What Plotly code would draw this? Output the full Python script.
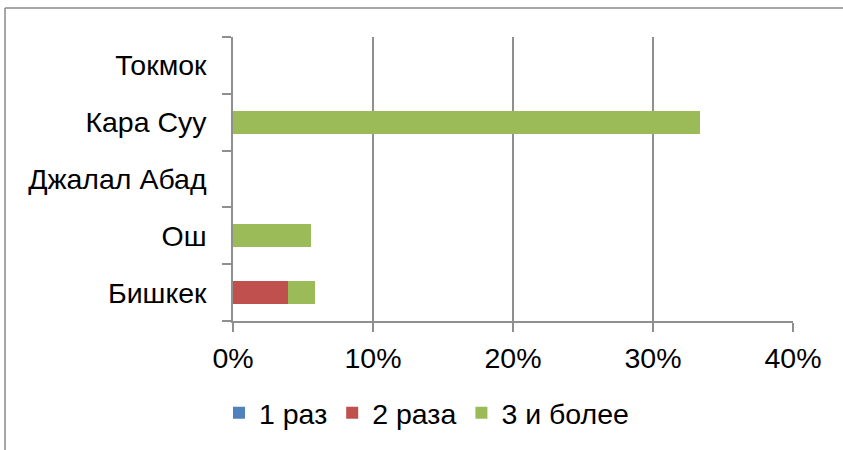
import plotly.graph_objects as go

# данные
cities = ["Бишкек", "Ош", "Джалал Абад", "Кара Суу", "Токмок"]
once = [0.0, 0.0, 0.0, 0.0, 0.0]
twice = [0.0392, 0.0, 0.0, 0.0, 0.0]
three_plus = [0.0196, 0.0556, 0.0, 0.3333, 0.0]
x_ticks = [0, 0.1, 0.2, 0.3, 0.4]

FONT = "Liberation Sans, Arial, sans-serif"
GRID = "#8f8f8f"

fig = go.Figure()
series = [("1 раз", once, "#4F81BD"),
          ("2 раза", twice, "#C0504D"),
          ("3 и более", three_plus, "#9BBB59")]
for name, vals, color in series:
    fig.add_trace(go.Bar(
        y=cities, x=vals, name=name, orientation="h",
        marker=dict(color=color, line=dict(width=0)),
    ))

fig.update_layout(
    barmode="stack", bargap=0.6,
    width=843, height=450,
    margin=dict(l=233, r=50, t=37, b=128),
    paper_bgcolor="white", plot_bgcolor="white",
    font=dict(family=FONT, size=28.5, color="black"),
    showlegend=True,
    legend=dict(orientation="h", x=0.3455, xanchor="center", y=-0.32, yanchor="middle",
                font=dict(size=28.5), traceorder="normal", itemwidth=30),
)
fig.update_xaxes(
    range=[0, 0.4], tickvals=x_ticks, tickformat=".0%",
    showgrid=True, gridcolor=GRID, gridwidth=1.5,
    showline=True, linecolor=GRID, linewidth=1.5,
    ticks="outside", ticklen=9, tickcolor=GRID, tickwidth=1.5,
    zeroline=False, ticklabelstandoff=2,
)
fig.update_yaxes(
    showline=True, linecolor=GRID, linewidth=1.5,
    ticks="outside", ticklen=9, tickcolor=GRID, tickwidth=1.5, tickson="boundaries",
    showgrid=False, ticklabelstandoff=19,
)

# рамка диаграммы (видны только верх и левый край)
fig.add_shape(type="line", xref="paper", yref="paper",
              x0=-0.4071, x1=1.1, y0=1.1018, y1=1.1018,
              line=dict(color="#8a8a8a", width=1.5))
fig.add_shape(type="line", xref="paper", yref="paper",
              x0=-0.4071, x1=-0.4071, y0=1.1018, y1=-0.46,
              line=dict(color="#8a8a8a", width=1.5))

fig.write_html("out.html", config={"displayModeBar": False},
               post_script="document.body.style.margin='0';")
